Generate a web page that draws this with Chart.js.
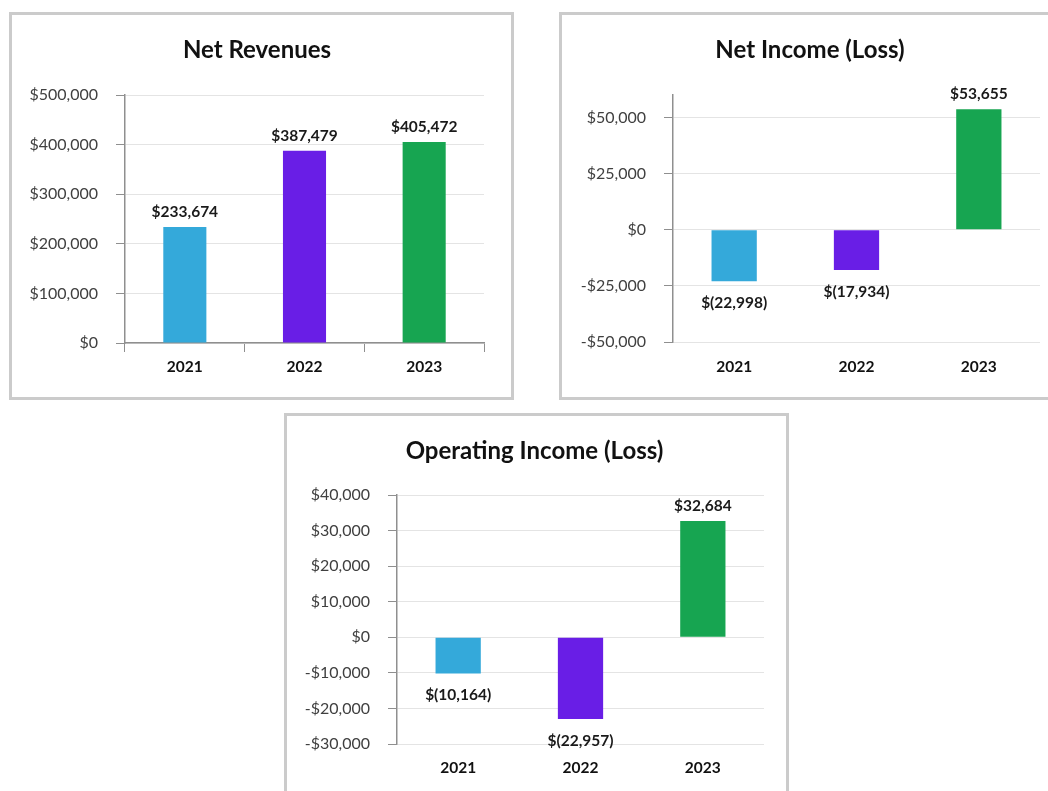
<!DOCTYPE html>
<html>
<head>
<meta charset="utf-8">
<title>Financial highlights</title>
<script src="https://cdn.jsdelivr.net/npm/chart.js@4.4.0/dist/chart.umd.min.js"></script>
<style>
  html, body { margin: 0; padding: 0; background: #fff; overflow: hidden; }
  .panel { position: absolute; width: 499px; height: 382px; border: 3px solid #cbcbcb; background: #fff; }
  #panelRevenue { left: 9px; top: 12px; }
  #panelIncome { left: 559px; top: 12px; }
  #panelOperating { left: 284px; top: 413px; }
  canvas { display: block; }
</style>
</head>
<body>
<div class="panel" id="panelRevenue"><canvas id="revenueChart" width="499" height="382"></canvas></div>
<div class="panel" id="panelIncome"><canvas id="incomeChart" width="499" height="382"></canvas></div>
<div class="panel" id="panelOperating"><canvas id="operatingChart" width="499" height="382"></canvas></div>
<script>
// data
const years = ['2021', '2022', '2023'];
const netRevenues = [233674, 387479, 405472];
const netIncome = [-22998, -17934, 53655];
const operatingIncome = [-10164, -22957, 32684];

// y axis ticks per chart
const revenueTicks = [0, 100000, 200000, 300000, 400000, 500000];
const incomeTicks = [-50000, -25000, 0, 25000, 50000];
const operatingTicks = [-30000, -20000, -10000, 0, 10000, 20000, 30000, 40000];

const barColors = ['#34a9da', '#691ee6', '#17a551'];
const axisGray = '#8f8f8f';
const gridGray = '#e4e4e4';

Chart.defaults.font.family = 'Lato, "Open Sans", sans-serif';

function money(v) {
  const s = '$' + Math.abs(v).toLocaleString('en-US');
  return v < 0 ? '-' + s : s;
}

function labelMoney(v) {
  const s = Math.abs(v).toLocaleString('en-US');
  return v < 0 ? '$(' + s + ')' : '$' + s;
}

// value labels above / below each bar
const barLabels = {
  id: 'barLabels',
  afterDatasetsDraw(chart) {
    const ctx = chart.ctx;
    const data = chart.data.datasets[0].data;
    ctx.save();
    ctx.font = 'bold 15.5px ' + Chart.defaults.font.family;
    ctx.fillStyle = '#1a1a1a';
    ctx.textAlign = 'center';
    ctx.textBaseline = 'middle';
    chart.getDatasetMeta(0).data.forEach((bar, i) => {
      const v = data[i];
      ctx.fillText(labelMoney(v), bar.x, v < 0 ? bar.y + 22 : bar.y - 15);
    });
    ctx.restore();
  }
};

function makeChart(id, title, values, tickValues, cfg) {
  return new Chart(document.getElementById(id), {
    type: 'bar',
    data: {
      labels: years,
      datasets: [{
        data: values,
        backgroundColor: barColors,
        barPercentage: cfg.barPct,
        categoryPercentage: 1
      }]
    },
    options: {
      responsive: false,
      animation: false,
      layout: { padding: { left: 18, right: cfg.padRight, top: 0, bottom: 0 } },
      plugins: {
        legend: { display: false },
        tooltip: { enabled: false },
        title: {
          display: true,
          text: title,
          color: '#111',
          font: { size: 24, weight: 'bold' },
          padding: { top: 20.6, bottom: cfg.titleGap }
        }
      },
      scales: {
        x: {
          grid: { display: cfg.xAxisLine, drawOnChartArea: false, color: axisGray, tickLength: 9, offset: true },
          border: { display: cfg.xAxisLine, color: axisGray, width: 1.5 },
          ticks: { color: '#111', font: { size: 15.5, weight: 'bold' }, padding: cfg.xPad },
          afterFit: s => { s.height = cfg.xHeight; }
        },
        y: {
          min: cfg.min,
          max: cfg.max,
          afterBuildTicks: s => { s.ticks = tickValues.map(v => ({ value: v })); },
          grid: { color: gridGray, tickColor: axisGray, tickLength: 9 },
          border: { color: axisGray, width: 1.5 },
          ticks: { color: '#404040', font: { size: 16 }, padding: 18, callback: v => money(v) },
          afterFit: s => { s.width = cfg.yWidth; }
        }
      }
    },
    plugins: [barLabels]
  });
}

makeChart('revenueChart', 'Net Revenues', netRevenues, revenueTicks, {
  min: 0, max: 500000, barPct: 0.36, padRight: 27, yWidth: 95,
  titleGap: 30.6, xHeight: 54, xPad: 6, xAxisLine: true
});

makeChart('incomeChart', 'Net Income (Loss)', netIncome, incomeTicks, {
  min: -50000, max: 60000, barPct: 0.37, padRight: 21, yWidth: 93,
  titleGap: 30.6, xHeight: 55, xPad: 7, xAxisLine: false
});

makeChart('operatingChart', 'Operating Income (Loss)', operatingIncome, operatingTicks, {
  min: -30000, max: 40000, barPct: 0.37, padRight: 22, yWidth: 92,
  titleGap: 29.6, xHeight: 54, xPad: 6, xAxisLine: false
});
</script>
</body>
</html>
